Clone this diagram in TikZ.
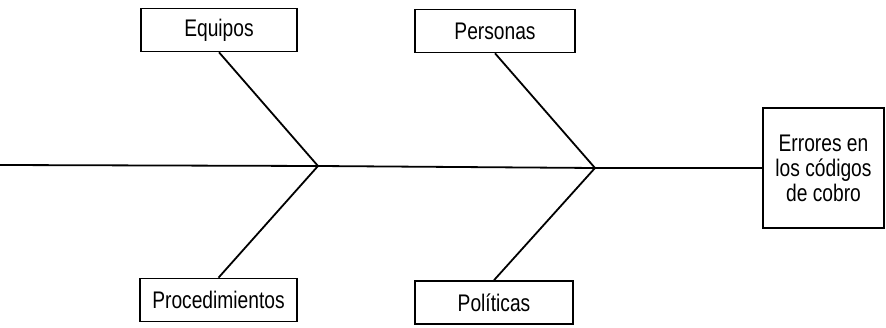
\documentclass[tikz,border=0pt]{standalone}
\usepackage{fontspec}
\setmainfont[FakeStretch=0.8]{Liberation Sans}
\begin{document}
\begin{tikzpicture}[x=1pt,y=-1pt,
  causebox/.style={draw,line width=1.6pt,minimum width=156pt,minimum height=43pt,inner sep=0pt,font=\fontsize{24}{25}\selectfont},
  effectbox/.style={draw,line width=1.6pt,minimum width=121pt,minimum height=120pt,inner sep=0pt,align=center,font=\fontsize{24}{25}\selectfont},
  bone/.style={line width=1.8pt}]
\useasboundingbox (0,0) rectangle (886,328);
% cause categories
\node[causebox] (equipos) at (219,30) {Equipos};
\node[causebox,minimum width=160pt] (personas) at (495,31) {Personas};
\node[causebox,minimum width=157pt] (proced) at (218.5,300) {Procedimientos};
\node[causebox,minimum width=158pt] (politicas) at (494,302.5) {Políticas};
% effect
\node[effectbox] (efecto) at (823.5,168) {Errores en\\los códigos\\de cobro};
% spine
\coordinate (cola) at (0,165);
\coordinate (j1) at (318,166);
\coordinate (j2) at (595,168);
\draw[bone] (cola) -- (j1) -- (j2) -- (efecto.west);
% bones
\draw[bone] (equipos.south) -- (j1) -- (proced.north);
\draw[bone] (personas.south) -- (j2) -- (politicas.north);
\end{tikzpicture}
\end{document}
